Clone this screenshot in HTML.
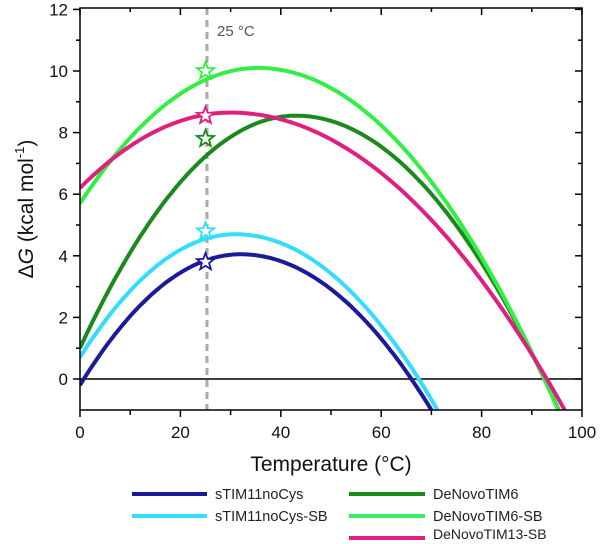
<!DOCTYPE html>
<html><head><meta charset="utf-8"><style>
html,body{margin:0;padding:0;background:#fff;overflow:hidden;width:600px;height:544px;}
svg{display:block;font-family:"Liberation Sans",Arial,sans-serif;}
</style></head><body>
<svg id="s" width="600" height="544" viewBox="0 0 600 544" xmlns="http://www.w3.org/2000/svg">
<defs><clipPath id="c"><rect x="80" y="8" width="502" height="402"/></clipPath></defs>
<g id="ticks" stroke="#000" stroke-width="1.5"></g>
<line x1="207" y1="8" x2="207" y2="410" stroke="#aaa" stroke-width="3" stroke-dasharray="7,5"/>
<line x1="80" y1="379" x2="582" y2="379" stroke="#000" stroke-width="1.5"/>
<g id="curves" clip-path="url(#c)" fill="none" stroke-width="4"></g>
<g id="stars" stroke-width="1.8" fill="#fff"></g>
<rect x="80" y="8" width="502" height="402" fill="none" stroke="#000" stroke-width="1.5"/>
<text x="217" y="36" font-size="15" fill="#555">25 °C</text>
<g id="lab" font-size="17" fill="#111"></g>
<text x="331" y="471" font-size="21" text-anchor="middle" fill="#111">Temperature (°C)</text>
<text transform="translate(33,209) rotate(-90)" font-size="21" text-anchor="middle" fill="#111">Δ<tspan font-style="italic">G</tspan> (kcal mol<tspan dy="-9" font-size="13">-1</tspan><tspan dy="9">)</tspan></text>
<g font-size="14.5" fill="#222">
<line x1="132" y1="494" x2="207" y2="494" stroke="#1a1a9a" stroke-width="4"/><text x="215" y="499">sTIM11noCys</text>
<line x1="132" y1="516" x2="207" y2="516" stroke="#33ddff" stroke-width="4"/><text x="215" y="521">sTIM11noCys-SB</text>
<line x1="349" y1="494" x2="425" y2="494" stroke="#1a8a1a" stroke-width="4"/><text x="433" y="499">DeNovoTIM6</text>
<line x1="349" y1="516" x2="425" y2="516" stroke="#33ee66" stroke-width="4"/><text x="433" y="521">DeNovoTIM6-SB</text>
<line x1="349" y1="538" x2="425" y2="538" stroke="#e0207f" stroke-width="4"/><text x="433" y="539" font-size="14">DeNovoTIM13-SB</text>
</g>
</svg>
<script>
var NS="http://www.w3.org/2000/svg";
function X(t){return 80+5.02*t;} function Y(v){return 379-30.8*v;}
function el(p,n,a){var e=document.createElementNS(NS,n);for(var k in a)e.setAttribute(k,a[k]);p.appendChild(e);return e;}
var tk=document.getElementById('ticks'),lab=document.getElementById('lab');
for(var t=0;t<=100;t+=10){var m=t%20==0,x=X(t);
el(tk,'line',{x1:x,y1:410,x2:x,y2:m?417:415});
el(tk,'line',{x1:x,y1:8,x2:x,y2:m?15:12});
if(m){var e=el(lab,'text',{x:x,y:438,'text-anchor':'middle'});e.textContent=t;}}
for(var v=0;v<=12;v++){var m=v%2==0,y=Y(v);
el(tk,'line',{x1:80,y1:y,x2:m?73:76,y2:y});
el(tk,'line',{x1:582,y1:y,x2:m?575:578,y2:y});
if(m){var e=el(lab,'text',{x:68,y:y+6,'text-anchor':'end'});e.textContent=v;}}
var C=[
['#1a1a9a',32,4.05,0.00415,0.0035],
['#33ddff',31,4.7,0.00416,0.00353],
['#1a8a1a',43,8.55,0.00408,0.00349],
['#33ee44',35.5,10.1,0.00349,0.00311],
['#e0207f',30,8.65,0.00272,0.00218]];
var cg=document.getElementById('curves');
C.forEach(function(c){var d='';for(var t=0;t<=100;t+=0.5){var a=t<c[1]?c[3]:c[4];var v=c[2]-a*(t-c[1])*(t-c[1]);d+=(t?'L':'M')+X(t).toFixed(1)+','+Y(v).toFixed(1);}
el(cg,'path',{d:d,stroke:c[0]});});
var S=[['#1a1a9a',3.8],['#33ddff',4.8],['#1a8a1a',7.8],['#33ee44',10.0],['#e0207f',8.55]];
var sg=document.getElementById('stars');
S.forEach(function(s){var cx=X(25),cy=Y(s[1]),p='';for(var i=0;i<10;i++){var r=i%2?3.8:9,a=-Math.PI/2+i*Math.PI/5;p+=(cx+r*Math.cos(a)).toFixed(1)+','+(cy+r*Math.sin(a)).toFixed(1)+' ';}
el(sg,'polygon',{points:p,stroke:s[0]});});
</script>
</body></html>
